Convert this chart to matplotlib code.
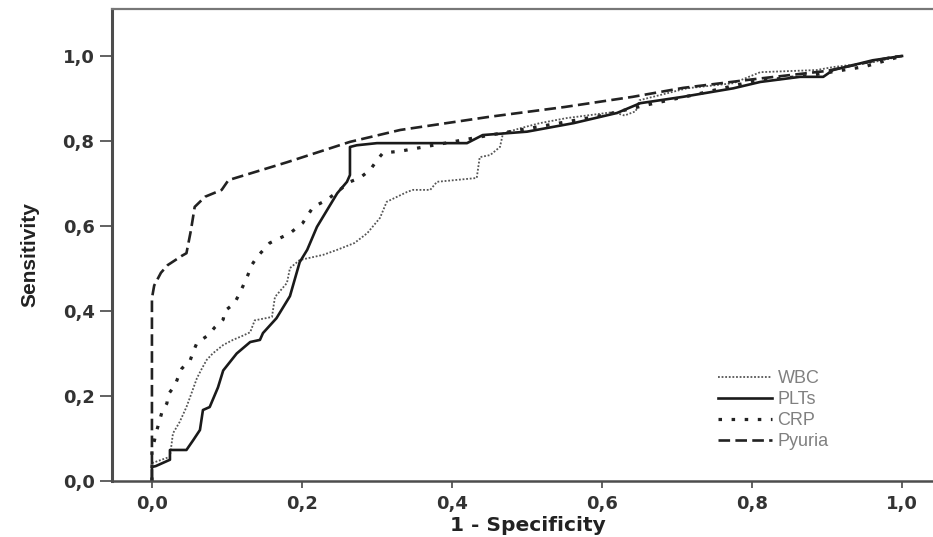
import matplotlib
matplotlib.use("Agg")
import matplotlib.pyplot as plt
from matplotlib import font_manager

# ROC curve points (x = 1 - specificity, y = sensitivity)
wbc_x = [0, 0, 0.024, 0.028, 0.037, 0.046, 0.051, 0.06, 0.067, 0.073,
         0.081, 0.095, 0.108, 0.12, 0.131, 0.137, 0.16, 0.164, 0.18, 0.184,
         0.197, 0.228, 0.247, 0.27, 0.287, 0.304, 0.313, 0.34, 0.348, 0.371,
         0.38, 0.433, 0.437, 0.451, 0.464, 0.468, 0.491, 0.517, 0.553, 0.615,
         0.63, 0.645, 0.65, 0.713, 0.775, 0.811, 0.886, 0.908, 0.96, 1.0]
wbc_y = [0, 0.042, 0.057, 0.112, 0.139, 0.174, 0.198, 0.242, 0.266, 0.285,
         0.30, 0.32, 0.332, 0.341, 0.35, 0.378, 0.386, 0.433, 0.466, 0.501,
         0.52, 0.532, 0.544, 0.56, 0.583, 0.619, 0.657, 0.68, 0.685, 0.685,
         0.704, 0.713, 0.762, 0.767, 0.786, 0.818, 0.83, 0.842, 0.854, 0.868,
         0.86, 0.87, 0.896, 0.924, 0.936, 0.962, 0.967, 0.974, 0.985, 1.0]

plts_x = [0, 0, 0.005, 0.024, 0.024, 0.046, 0.055, 0.064, 0.068, 0.077,
          0.088, 0.095, 0.113, 0.131, 0.144, 0.148, 0.166, 0.184, 0.197, 0.207,
          0.22, 0.247, 0.26, 0.264, 0.264, 0.273, 0.3, 0.42, 0.441, 0.5,
          0.562, 0.62, 0.651, 0.708, 0.775, 0.811, 0.864, 0.895, 0.908, 0.961,
          1.0]
plts_y = [0, 0.033, 0.035, 0.05, 0.073, 0.073, 0.096, 0.12, 0.167, 0.174,
          0.22, 0.26, 0.30, 0.327, 0.332, 0.348, 0.383, 0.435, 0.515, 0.544,
          0.598, 0.677, 0.704, 0.72, 0.786, 0.79, 0.795, 0.795, 0.814, 0.822,
          0.842, 0.866, 0.889, 0.904, 0.924, 0.939, 0.951, 0.951, 0.967, 0.99,
          1.0]

crp_x = [0, 0, 0.006, 0.013, 0.02, 0.021, 0.031, 0.035, 0.04, 0.051,
         0.055, 0.06, 0.075, 0.084, 0.095, 0.097, 0.11, 0.117, 0.122, 0.128,
         0.133, 0.14, 0.157, 0.184, 0.201, 0.215, 0.233, 0.264, 0.277, 0.291,
         0.3, 0.308, 0.331, 0.375, 0.464, 0.52, 0.6, 0.66, 0.721, 0.8,
         0.88, 0.95, 1.0]
crp_y = [0, 0.07, 0.116, 0.16, 0.183, 0.202, 0.226, 0.245, 0.265, 0.284,
         0.304, 0.325, 0.343, 0.362, 0.38, 0.40, 0.418, 0.442, 0.461, 0.485,
         0.508, 0.527, 0.56, 0.583, 0.607, 0.645, 0.661, 0.704, 0.713, 0.732,
         0.755, 0.772, 0.776, 0.79, 0.818, 0.835, 0.86, 0.885, 0.908, 0.94,
         0.955, 0.975, 1.0]

pyuria_x = [0, 0, 0.003, 0.012, 0.021, 0.04, 0.046, 0.052, 0.057, 0.071,
            0.093, 0.102, 0.18, 0.264, 0.331, 0.45, 0.55, 0.641, 0.708, 0.8,
            0.9, 0.988, 1.0]
pyuria_y = [0, 0.43, 0.46, 0.49, 0.508, 0.53, 0.536, 0.59, 0.645, 0.669,
            0.685, 0.708, 0.75, 0.798, 0.826, 0.857, 0.88, 0.904, 0.925, 0.945,
            0.965, 0.998, 1.0]

ticks = [0.0, 0.2, 0.4, 0.6, 0.8, 1.0]
tick_labels = ["0,0", "0,2", "0,4", "0,6", "0,8", "1,0"]

# pick a narrow font for the y label if there is one
names = {f.name for f in font_manager.fontManager.ttflist}
ylab_font = "Liberation Sans Narrow" if "Liberation Sans Narrow" in names else "Liberation Sans"

fig = plt.figure(figsize=(9.33, 5.37), dpi=100)
ax = fig.add_axes([0.120, 0.1043, 0.880, 0.8789])

ax.plot(wbc_x, wbc_y, color="#555555", lw=1.3, linestyle=(0, (1, 1)), label="WBC")
ax.plot(plts_x, plts_y, color="#1a1a1a", lw=1.9, linestyle="-", label="PLTs")
ax.plot(crp_x, crp_y, color="#222222", lw=2.3, linestyle=(0, (1.1, 3.0)), label="CRP")
ax.plot(pyuria_x, pyuria_y, color="#222222", lw=1.9, linestyle=(0, (4.4, 2.0)), label="Pyuria")

ax.set_xlim(-0.0533, 1.0413)
ax.set_ylim(0, 1.1106)

ax.set_xticks(ticks)
ax.set_xticklabels(tick_labels)
ax.set_yticks(ticks)
ax.set_yticklabels(tick_labels)
ax.tick_params(axis="x", direction="out", length=5, width=1.3, color="#555555",
               pad=5, labelsize=13, labelcolor="#333333")
ax.tick_params(axis="y", direction="out", length=9, width=1.3, color="#555555",
               pad=3.5, labelsize=13, labelcolor="#333333")
for lab in ax.get_xticklabels() + ax.get_yticklabels():
    lab.set_fontweight("bold")
    lab.set_family("DejaVu Sans")

ax.spines["right"].set_visible(False)
ax.spines["left"].set_linewidth(2.2)
ax.spines["left"].set_color("#4d4d4d")
ax.spines["bottom"].set_linewidth(1.8)
ax.spines["bottom"].set_color("#4d4d4d")
ax.spines["top"].set_linewidth(1.6)
ax.spines["top"].set_color("#777777")

ax.set_xlabel("1 - Specificity", fontsize=14.5, fontweight="bold", family="DejaVu Sans",
              color="#222222", va="bottom")
ax.xaxis.set_label_coords(0.507, -0.1150)
ax.set_ylabel("Sensitivity", fontsize=15, fontweight="bold", family=ylab_font,
              color="#222222")
ax.yaxis.set_label_coords(-0.088, 0.479)

leg = ax.legend(loc="center left", bbox_to_anchor=(0.738, 0.150), frameon=False,
                borderpad=0, borderaxespad=0, handlelength=3.0, handletextpad=0.3,
                labelspacing=0.22, prop={"family": "Liberation Sans", "size": 13})
for t in leg.get_texts():
    t.set_color("#808080")

plt.savefig("out.png", dpi=100)
